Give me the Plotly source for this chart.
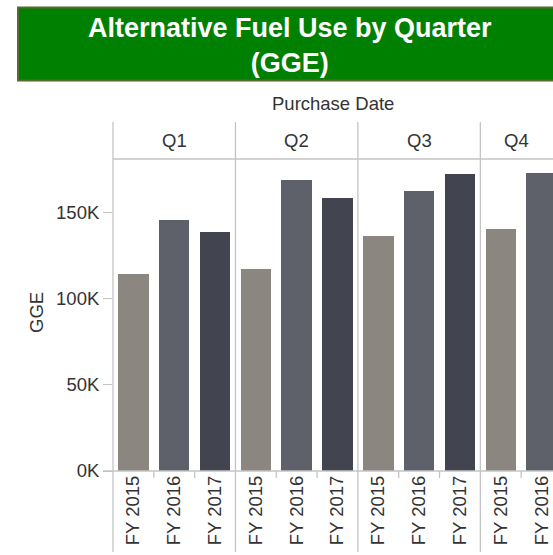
import plotly.graph_objects as go

# ---- data ----
quarters = ["Q1", "Q2", "Q3", "Q4"]
fiscal_years = ["FY 2015", "FY 2016", "FY 2017"]
gge_fy2015 = [113900, 117200, 136200, 140200]
gge_fy2016 = [145600, 168600, 162200, 172700]
gge_fy2017 = [138300, 158300, 171900, None]   # Q4 FY 2017 is cut off in the view
y_tick_vals = [0, 50000, 100000, 150000]
y_tick_text = ["0K", "50K", "100K", "150K"]

colors = ["#8c8681", "#5e6169", "#42444f"]

W, H = 553, 555
ML, MR, MT, MB = 113, 0, 159, 84
PW, PH = W - ML - MR, H - MT - MB
FONT = "Arial, 'Liberation Sans', sans-serif"
TXT = "#333333"
LINE = "#c4c4c4"

series = [gge_fy2015, gge_fy2016, gge_fy2017]
n_fy = len(fiscal_years)
xs, ys, cs, tickv, tickt = [], [], [], [], []
for qi, q in enumerate(quarters):
    for fi, fy in enumerate(fiscal_years):
        pos = qi * n_fy + fi
        tickv.append(pos)
        tickt.append(fy)
        xs.append(pos)
        ys.append(series[fi][qi])
        cs.append(colors[fi])

x_range = [-0.5, 10.28]
y_range = [0, 180800]

def px_x(v):
    return (v - x_range[0]) / (x_range[1] - x_range[0])

def py(pix_from_top):
    return (H - MB - pix_from_top) / PH

def pxp(pix_from_left):
    return (pix_from_left - ML) / PW

fig = go.Figure(go.Bar(
    x=xs, y=ys, width=0.745, marker=dict(color=cs, line=dict(width=0)),
    hoverinfo="x+y", showlegend=False,
))

shapes = []
shapes.append(dict(type="rect", xref="paper", yref="paper",
                   x0=pxp(18), x1=1.02, y0=py(80.5), y1=py(7.5),
                   fillcolor="#008000", line=dict(color="#556b2f", width=2), layer="above"))
for qi in range(len(quarters)):
    xb = qi * n_fy - 0.5
    if x_range[0] <= xb <= x_range[1]:
        shapes.append(dict(type="line", xref="paper", yref="paper",
                           x0=px_x(xb), x1=px_x(xb), y0=py(552), y1=py(122),
                           line=dict(color=LINE, width=1.3)))
shapes.append(dict(type="line", xref="paper", yref="paper", x0=0, x1=1, y0=1, y1=1,
                   line=dict(color=LINE, width=1.3)))
shapes.append(dict(type="line", xref="paper", yref="paper", x0=pxp(103), x1=1, y0=0, y1=0,
                   line=dict(color=LINE, width=1.3)))
for pos in range(len(xs) - 1):
    b = pos + 0.5
    if (pos + 1) % n_fy == 0:
        continue
    if b < x_range[1]:
        shapes.append(dict(type="line", xref="paper", yref="paper",
                           x0=px_x(b), x1=px_x(b), y0=0, y1=py(478),
                           line=dict(color=LINE, width=1.3)))

annotations = []
annotations.append(dict(text="<b>Alternative Fuel Use by Quarter<br>(GGE)</b>", xref="paper", yref="paper",
                        x=pxp(290), y=py(46), xanchor="center", yanchor="middle", showarrow=False,
                        font=dict(family=FONT, size=27, color="white")))
annotations.append(dict(text="Purchase Date", xref="paper", yref="paper", x=0.5, y=py(103),
                        xanchor="center", yanchor="middle", showarrow=False,
                        font=dict(family=FONT, size=18.5, color=TXT)))
for qi, q in enumerate(quarters):
    lo = max(qi * n_fy - 0.5, x_range[0])
    hi = min(qi * n_fy + n_fy - 0.5, x_range[1])
    if hi <= lo:
        continue
    annotations.append(dict(text=q, xref="paper", yref="paper", x=px_x((lo + hi) / 2), y=py(140),
                            xanchor="center", yanchor="middle", showarrow=False,
                            font=dict(family=FONT, size=18.5, color=TXT)))
annotations.append(dict(text="GGE", xref="paper", yref="paper", x=pxp(36), y=py(313),
                        xanchor="center", yanchor="middle", showarrow=False, textangle=-90,
                        font=dict(family=FONT, size=18.5, color=TXT)))

fig.update_layout(
    width=W, height=H, margin=dict(l=ML, r=MR, t=MT, b=MB),
    paper_bgcolor="white", plot_bgcolor="white",
    font=dict(family=FONT, color=TXT, size=18.5),
    shapes=shapes, annotations=annotations,
    xaxis=dict(range=x_range, tickmode="array", tickvals=tickv, ticktext=tickt,
               tickangle=-90, showgrid=False, zeroline=False, showline=False, ticks="",
               tickfont=dict(family=FONT, size=18.5, color=TXT), fixedrange=True),
    yaxis=dict(range=y_range, tickmode="array", tickvals=y_tick_vals, ticktext=y_tick_text,
               showgrid=False, zeroline=False, showline=False, ticks="outside", ticklen=9,
               tickcolor=LINE, tickwidth=1.3,
               tickfont=dict(family=FONT, size=18.5, color=TXT), fixedrange=True),
    bargap=0,
)

fig.write_html("out.html", config={"displayModeBar": False},
               post_script="document.body.style.margin='0';document.body.style.overflow='hidden';")
